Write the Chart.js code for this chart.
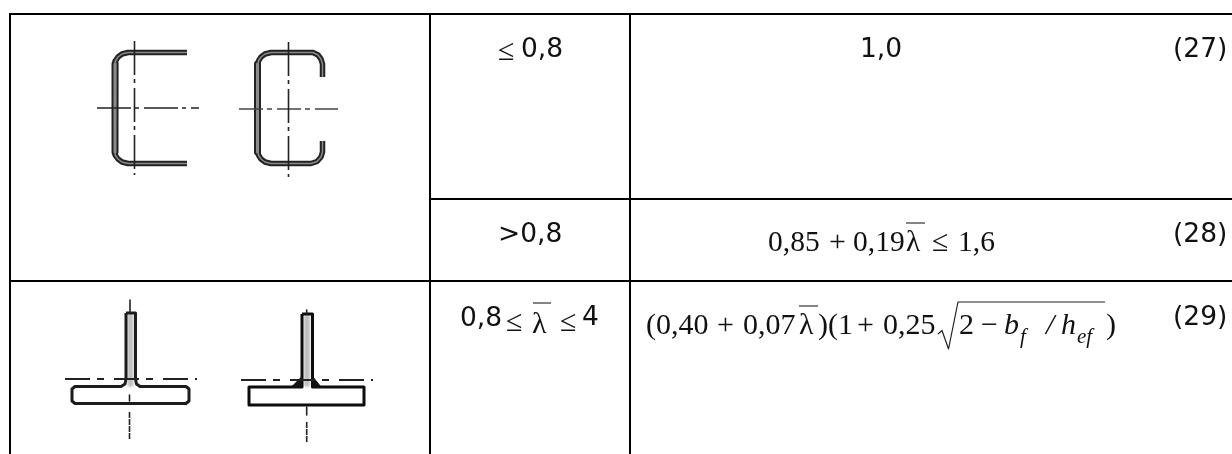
<!DOCTYPE html>
<html>
<head>
<meta charset="utf-8">
<style>
  html, body { margin: 0; padding: 0; background: #fff; }
  canvas { display: block; }
</style>
<script src="https://cdn.jsdelivr.net/npm/chart.js@4"></script>
</head>
<body>
<canvas id="tableChart" width="1232" height="454"></canvas>
<script>
// table rules
const ruleTop = [[9, 14], [1232, 14]];
const ruleMiddle = [[430, 199], [1232, 199]];
const ruleLower = [[10, 281], [1232, 281]];
const ruleLeft = [[10, 14], [10, 454]];
const ruleCol1 = [[430, 14], [430, 454]];
const ruleCol2 = [[630, 14], [630, 454]];

// channel profiles
const channelA = [[187, 52.5], [128, 52.5], [122, 54], [118, 57], [115.5, 61], [115, 66], [115, 150], [115.5, 155], [118, 159], [122, 162], [128, 163.5], [187, 163.5]];
const channelAWeb = [[115, 64], [115, 152]];
const channelB = [[322.5, 77], [322.5, 64], [321, 59], [318, 55], [313, 52.5], [271, 52.5], [265, 54], [261, 57], [258.5, 61], [257.5, 66], [257.5, 150], [258.5, 155], [261, 159], [265, 162], [271, 163.5], [311, 163.5], [317, 161.5], [321, 157], [322.5, 152], [322.5, 141]];
const channelBWeb = [[257.5, 64], [257.5, 152]];
const axisAV = [[134.5, 41], [134.5, 175]];
const axisAH = [[97, 108], [199, 108]];
const axisBV = [[288.5, 42], [288.5, 177]];
const axisBH = [[239, 109], [338, 109]];

// tee profiles
const teeA = [[126, 313], [135.5, 313], [135.5, 379], [136.5, 384], [140, 386.5], [186, 386.5], [189, 389], [189, 401], [186, 403.5], [75, 403.5], [72, 401], [72, 389], [75, 386.5], [121, 386.5], [125, 384], [126, 379], [126, 313]];
const teeAWeb = [[130.5, 316], [130.5, 384]];
const teeAAxisTop = [[130, 300], [130, 312]];
const teeAAxisLow = [[129.5, 412], [129.5, 440]];
const teeAAxisMid = [[129.5, 395], [129.5, 401]];
const teeANeutral = [[65, 379], [197, 379]];
const teeB = [[302, 314], [312.5, 314], [312.5, 387], [364, 387], [364, 405], [249, 405], [249, 387], [302, 387], [302, 314]];
const teeBWeb = [[307, 317], [307, 384]];
const weldLeft = [[291.5, 387], [301.5, 377], [301.5, 387], [291.5, 387]];
const weldRight = [[321, 387], [313, 377], [313, 387], [321, 387]];
const teeBAxisTop = [[306.7, 310], [306.7, 314]];
const teeBAxisMid = [[306.7, 407], [306.7, 415]];
const teeBAxisLow = [[306.7, 422], [306.7, 442]];
const teeBNeutral = [[241, 380], [373, 380]];

// formula strokes
const barRow2 = [[906, 223], [925, 223]];
const barRow3a = [[533, 303], [551, 303]];
const barRow3b = [[799, 306], [818, 306]];
const radical = [[938, 334], [942, 330.5], [948.5, 349], [958, 302], [1105, 302]];

const cellTexts = ["≤", "0,8", "1,0", "(27)", ">0,8", "(28)", "0,8", "≤", "λ", "≤", "4", "(29)",
  "0,85", "+", "0,19", "λ", "≤", "1,6",
  "(0,40", "+", "0,07", "λ", ")(1", "+", "0,25", "2", "−", "b", "f", "/", "h", "ef", ")"];

const textPlacement = [
  [498, 60, "s"], [521, 57, "d"], [860, 57, "d"], [1173, 57, "d"], [498, 242, "d"], [1173, 242, "d"],
  [460, 326, "d"], [506, 331, "s"], [532, 333, "s"], [560, 331, "s"], [582, 325, "d"], [1173, 325, "d"],
  [768, 251, "r"], [829, 251, "s"], [853, 251, "r"], [906, 251, "r"], [932, 251, "s"], [958, 251, "r"],
  [646, 334, "s"], [717, 334, "s"], [743, 334, "s"], [799, 334, "s"], [818, 334, "s"], [857, 334, "s"],
  [883, 334, "s"], [959, 334, "s"], [981, 334, "s"], [1004, 334, "i"], [1020, 343, "sub"], [1046, 334, "i"],
  [1061, 334, "i"], [1077, 343, "sub"], [1106, 334, "s"],
];

const textFonts = {
  d: '26.5px "DejaVu Sans"',
  s: '30px "Liberation Serif"',
  r: '29.5px "Liberation Serif"',
  i: 'italic 30px "Liberation Serif"',
  sub: 'italic 21px "Liberation Serif"',
};

const line = (data, color, width, extra) => ({
  data,
  borderColor: color,
  borderWidth: width,
  pointRadius: 0,
  tension: 0,
  fill: false,
  borderJoinStyle: "round",
  ...extra,
});

const ink = "#222";
const dashDot = [34, 4, 4, 5];
const neutralDash = [25, 7, 7, 10];

const datasets = [
  line(ruleTop, "#000", 2),
  line(ruleMiddle, "#000", 2),
  line(ruleLower, "#000", 2),
  line(ruleLeft, "#000", 2),
  line(ruleCol1, "#000", 2),
  line(ruleCol2, "#000", 2),

  line(barRow2, "#333", 1.2),
  line(barRow3a, "#333", 1.2),
  line(barRow3b, "#333", 1.2),
  line(radical, "#222", 1.2),

  line(axisAV, ink, 1.6, { borderDash: dashDot, blur: 0.6 }),
  line(axisAH, ink, 1.6, { borderDash: dashDot, blur: 0.6 }),
  line(axisBV, ink, 1.6, { borderDash: dashDot, blur: 0.6 }),
  line(axisBH, "#444", 1.6, { borderDash: [24, 4, 5, 5], blur: 0.6 }),

  line(channelA, "#8a8a8a", 1.5, { blur: 0.5 }),
  line(channelB, "#8a8a8a", 1.5, { blur: 0.5 }),
  line(channelAWeb, "#8a8a8a", 3, { blur: 0.5 }),
  line(channelBWeb, "#8a8a8a", 3, { blur: 0.5 }),
  line(channelA, "#222", 5.5, { blur: 0.6 }),
  line(channelB, "#222", 5.5, { blur: 0.6 }),
  line(channelAWeb, "#222", 7, { blur: 0.6 }),
  line(channelBWeb, "#222", 7, { blur: 0.6 }),

  line(teeAAxisTop, ink, 1.6, { blur: 0.6 }),
  line(teeAAxisMid, ink, 1.6, { blur: 0.6 }),
  line(teeAAxisLow, ink, 1.6, { borderDash: [6, 1], blur: 0.6 }),
  line(teeBAxisTop, ink, 1.6, { blur: 0.6 }),
  line(teeBAxisMid, ink, 1.6, { blur: 0.6 }),
  line(teeBAxisLow, ink, 1.6, { borderDash: [6, 1], blur: 0.6 }),
  line(teeANeutral, ink, 1.8, { borderDash: neutralDash, blur: 0.6 }),
  line(teeBNeutral, ink, 1.8, { borderDash: neutralDash, blur: 0.6 }),

  line(weldLeft, "#111", 1, { fill: "shape", backgroundColor: "#111", blur: 0.5 }),
  line(weldRight, "#111", 1, { fill: "shape", backgroundColor: "#111", blur: 0.5 }),
  line(teeA, "#1c1c1c", 3, { blur: 0.7 }),
  line(teeB, "#0c0c0c", 3, { blur: 0.7 }),
  line(teeAWeb, "#c0c0c0", 6, { blur: 1 }),
  line(teeBWeb, "#c0c0c0", 6, { blur: 1 }),
];

// soft edges for the scanned drawings
const softInk = {
  id: "softInk",
  beforeDatasetDraw(chart, args) {
    const blur = chart.data.datasets[args.index].blur;
    if (blur) chart.ctx.filter = `blur(${blur}px)`;
  },
  afterDatasetDraw(chart) {
    chart.ctx.filter = "none";
  },
};

const cellLabels = {
  id: "cellLabels",
  afterDatasetsDraw(chart) {
    const { ctx, scales } = chart;
    ctx.save();
    ctx.fillStyle = "#111";
    ctx.textBaseline = "alphabetic";
    cellTexts.forEach((text, i) => {
      const [x, y, font] = textPlacement[i];
      ctx.font = textFonts[font];
      ctx.fillText(text, scales.x.getPixelForValue(x), scales.y.getPixelForValue(y));
    });
    ctx.restore();
  },
};

new Chart(document.getElementById("tableChart"), {
  type: "scatter",
  data: { datasets: datasets.map((d) => ({ showLine: true, ...d })) },
  plugins: [softInk, cellLabels],
  options: {
    responsive: false,
    animation: false,
    layout: { padding: 0 },
    scales: {
      x: { type: "linear", min: 0, max: 1232, display: false },
      y: { type: "linear", min: 0, max: 454, reverse: true, display: false },
    },
    plugins: {
      legend: { display: false },
      tooltip: { enabled: false },
    },
  },
});
</script>
</body>
</html>
